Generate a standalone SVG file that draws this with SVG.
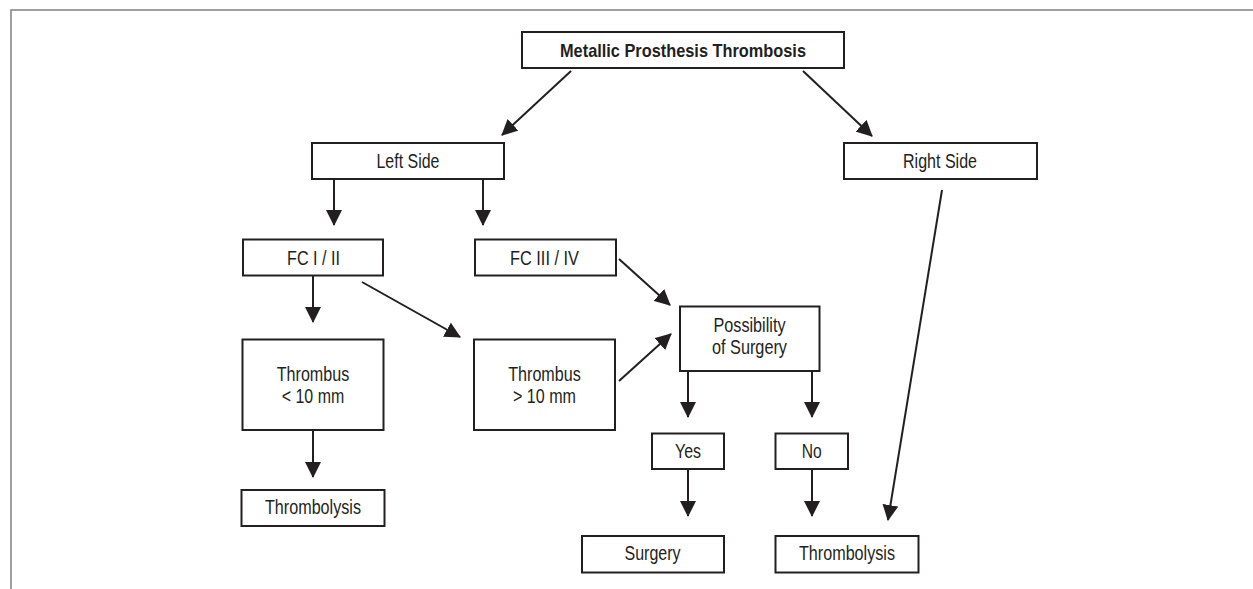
<svg xmlns="http://www.w3.org/2000/svg" width="1253" height="589" viewBox="0 0 1253 589">
<defs>
<style>
.box{fill:#fff;stroke:#231f20;stroke-width:2}
.t{font-family:"Liberation Sans",Arial,sans-serif;font-size:19.5px;fill:#231f20;text-anchor:middle}
.b{font-weight:bold;font-size:19px}
.c{stroke:#231f20;stroke-width:2;fill:none;marker-end:url(#ah)}
</style>
<marker id="ah" markerUnits="userSpaceOnUse" markerWidth="16" markerHeight="16" refX="15" refY="8" orient="auto">
<path d="M0,0 L16,8 L0,16 z" fill="#231f20"/>
</marker>
</defs>
<rect width="1253" height="589" fill="#fff"/>
<path d="M11,589 V10 H1253" fill="none" stroke="#808080" stroke-width="1.5"/>
<g id="connectors">
<line class="c" x1="571" y1="71" x2="502" y2="135"/>
<line class="c" x1="803" y1="71" x2="872" y2="136"/>
<line class="c" x1="334" y1="179" x2="334" y2="225"/>
<line class="c" x1="483" y1="179" x2="483" y2="225"/>
<line class="c" x1="313" y1="276" x2="313" y2="322"/>
<line class="c" x1="362" y1="282" x2="460" y2="337"/>
<line class="c" x1="619" y1="259" x2="670" y2="305"/>
<line class="c" x1="619" y1="381" x2="671" y2="334"/>
<line class="c" x1="688" y1="371" x2="688" y2="417"/>
<line class="c" x1="812" y1="371" x2="812" y2="417"/>
<line class="c" x1="688" y1="469" x2="688" y2="516"/>
<line class="c" x1="812" y1="469" x2="812" y2="516"/>
<line class="c" x1="313" y1="430" x2="313" y2="477"/>
<line class="c" x1="942" y1="190" x2="888" y2="520"/>
</g>
<g id="n-title"><rect class="box" x="522" y="32" width="322" height="36"/><text class="t b" x="683" y="56.7" textLength="246" lengthAdjust="spacingAndGlyphs">Metallic Prosthesis Thrombosis</text></g>
<g id="n-left"><rect class="box" x="312" y="143" width="192" height="36"/><text class="t" x="408" y="168" textLength="63" lengthAdjust="spacingAndGlyphs">Left Side</text></g>
<g id="n-right"><rect class="box" x="844" y="143" width="193" height="36"/><text class="t" x="940" y="168" textLength="74" lengthAdjust="spacingAndGlyphs">Right Side</text></g>
<g id="n-fc12"><rect class="box" x="243" y="239.5" width="140" height="36"/><text class="t" x="313.5" y="264.5" textLength="53" lengthAdjust="spacingAndGlyphs">FC I / II</text></g>
<g id="n-fc34"><rect class="box" x="475" y="239.5" width="141" height="36"/><text class="t" x="544.5" y="264.5" textLength="69" lengthAdjust="spacingAndGlyphs">FC III / IV</text></g>
<g id="n-thr-lt"><rect class="box" x="242.5" y="339.5" width="141" height="90.5"/><text class="t" x="313" y="381" textLength="72.5" lengthAdjust="spacingAndGlyphs">Thrombus</text><text class="t" x="313" y="403" textLength="62.5" lengthAdjust="spacingAndGlyphs">&lt; 10 mm</text></g>
<g id="n-thr-gt"><rect class="box" x="474" y="339.5" width="141" height="90.5"/><text class="t" x="544.5" y="381" textLength="72.5" lengthAdjust="spacingAndGlyphs">Thrombus</text><text class="t" x="544.5" y="403" textLength="63" lengthAdjust="spacingAndGlyphs">&gt; 10 mm</text></g>
<g id="n-poss"><rect class="box" x="680" y="306.5" width="139.5" height="64.5"/><text class="t" x="749.5" y="332" textLength="72" lengthAdjust="spacingAndGlyphs">Possibility</text><text class="t" x="749.5" y="354" textLength="75" lengthAdjust="spacingAndGlyphs">of Surgery</text></g>
<g id="n-yes"><rect class="box" x="652" y="433.5" width="72" height="35.5"/><text class="t" x="688" y="458" textLength="26" lengthAdjust="spacingAndGlyphs">Yes</text></g>
<g id="n-no"><rect class="box" x="775.5" y="433.5" width="72.5" height="35.5"/><text class="t" x="811.7" y="458" textLength="20" lengthAdjust="spacingAndGlyphs">No</text></g>
<g id="n-thrombolysis-l"><rect class="box" x="241.5" y="490" width="143" height="36"/><text class="t" x="313" y="513.5" textLength="96" lengthAdjust="spacingAndGlyphs">Thrombolysis</text></g>
<g id="n-surgery"><rect class="box" x="582" y="536" width="142" height="36.5"/><text class="t" x="652.5" y="559.5" textLength="56" lengthAdjust="spacingAndGlyphs">Surgery</text></g>
<g id="n-thrombolysis-r"><rect class="box" x="775.5" y="536" width="143" height="36.5"/><text class="t" x="847" y="559.5" textLength="96" lengthAdjust="spacingAndGlyphs">Thrombolysis</text></g>
</svg>
